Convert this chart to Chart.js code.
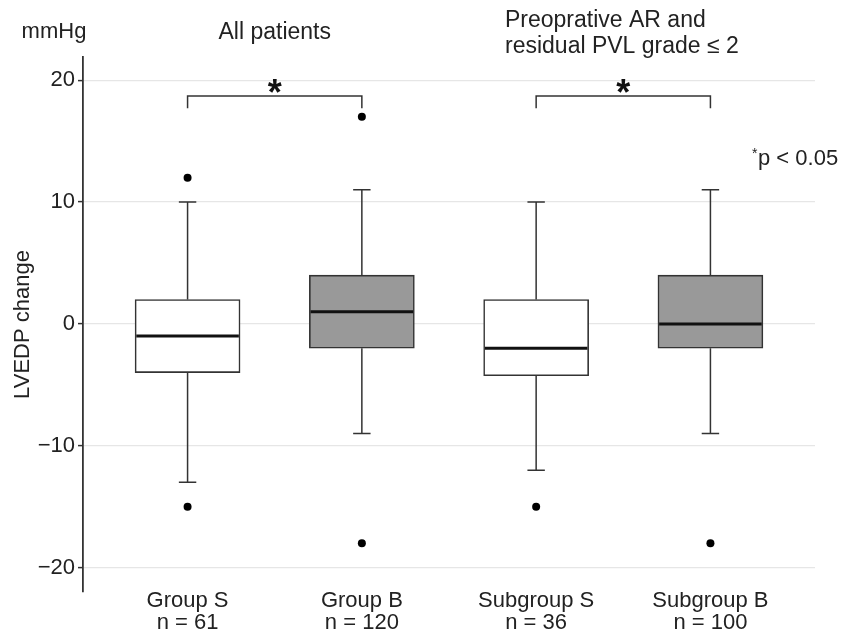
<!DOCTYPE html>
<html>
<head>
<meta charset="utf-8">
<script src="https://cdn.jsdelivr.net/npm/chart.js@4/dist/chart.umd.min.js"></script>
<style>
  html, body { margin: 0; padding: 0; background: #fff; }
  #wrap { width: 846px; height: 632px; position: relative; }
</style>
</head>
<body>
<div id="wrap"><canvas id="myChart"></canvas></div>
<script>
// Data (mmHg)
const categories = ['Group S', 'Group B', 'Subgroup S', 'Subgroup B'];
const sampleSizes = [61, 120, 36, 100];
const lowerWhisker = [-13, -9, -12, -9];
const q1 = [-4, -2, -4.25, -2];
const median = [-1, 1, -2, 0];
const q3 = [2, 4, 2, 4];
const upperWhisker = [10, 11, 10, 11];
const outliers = [[12, -15], [17, -18], [-15], [-18]];
const boxFills = ['#ffffff', '#999999', '#ffffff', '#999999'];
const yTicks = [-20, -10, 0, 10, 20];
const comparisons = [[0, 1], [2, 3]];

const FONT = '"Liberation Sans", Arial, Helvetica, sans-serif';
const INK = '#333333';

const boxData = categories.map((c, i) => ({ x: i + 1, y: [q1[i], q3[i]] }));
const outlierData = [];
outliers.forEach((list, i) => list.forEach(v => outlierData.push({ x: i + 1, y: v })));

// whiskers, medians, brackets and header text
const boxExtras = {
  id: 'boxExtras',
  beforeDatasetsDraw(chart) {
    const { ctx, scales: { x, y } } = chart;
    ctx.save();
    ctx.strokeStyle = INK;
    ctx.lineWidth = 1.5;
    categories.forEach((c, i) => {
      const cx = x.getPixelForValue(i + 1);
      const capL = x.getPixelForValue(i + 1 - 0.05);
      const capR = x.getPixelForValue(i + 1 + 0.05);
      ctx.beginPath();
      ctx.moveTo(cx, y.getPixelForValue(q3[i]));
      ctx.lineTo(cx, y.getPixelForValue(upperWhisker[i]));
      ctx.moveTo(cx, y.getPixelForValue(q1[i]));
      ctx.lineTo(cx, y.getPixelForValue(lowerWhisker[i]));
      ctx.moveTo(capL, y.getPixelForValue(upperWhisker[i]));
      ctx.lineTo(capR, y.getPixelForValue(upperWhisker[i]));
      ctx.moveTo(capL, y.getPixelForValue(lowerWhisker[i]));
      ctx.lineTo(capR, y.getPixelForValue(lowerWhisker[i]));
      ctx.stroke();
    });
    ctx.restore();
  },
  afterDatasetsDraw(chart) {
    const { ctx, scales: { x, y } } = chart;
    ctx.save();
    ctx.strokeStyle = '#111';
    ctx.lineWidth = 3;
    categories.forEach((c, i) => {
      const yy = y.getPixelForValue(median[i]);
      ctx.beginPath();
      ctx.moveTo(x.getPixelForValue(i + 1 - 0.3) + 1, yy);
      ctx.lineTo(x.getPixelForValue(i + 1 + 0.3) - 1, yy);
      ctx.stroke();
    });

    // significance brackets
    ctx.strokeStyle = INK;
    ctx.lineWidth = 1.5;
    comparisons.forEach(([a, b]) => {
      const xa = x.getPixelForValue(a + 1);
      const xb = x.getPixelForValue(b + 1);
      const top = y.getPixelForValue(18.7);
      const foot = y.getPixelForValue(17.7);
      ctx.beginPath();
      ctx.moveTo(xa, foot);
      ctx.lineTo(xa, top);
      ctx.lineTo(xb, top);
      ctx.lineTo(xb, foot);
      ctx.stroke();
      ctx.fillStyle = '#111';
      ctx.font = 'bold 36px ' + FONT;
      ctx.textAlign = 'center';
      ctx.textBaseline = 'alphabetic';
      ctx.fillText('*', (xa + xb) / 2, top + 9);
    });
    ctx.restore();
  },
  afterDraw(chart) {
    const { ctx, scales: { x } } = chart;
    ctx.save();
    ctx.fillStyle = '#222';
    ctx.textBaseline = 'alphabetic';
    ctx.font = '22px ' + FONT;
    ctx.textAlign = 'center';
    ctx.fillText('mmHg', 54, 38);
    ctx.font = '23px ' + FONT;
    ctx.fillText('All patients', x.getPixelForValue(1.5), 39);
    ctx.textAlign = 'left';
    ctx.fillText('Preoprative AR and', 505, 27);
    ctx.fillText('residual PVL grade \u2264 2', 505, 53);
    ctx.font = '14px ' + FONT;
    ctx.fillText('*', 752, 158);
    ctx.font = '22px ' + FONT;
    ctx.fillText('p < 0.05', 758, 165);
    ctx.restore();
  }
};

new Chart(document.getElementById('myChart'), {
  data: {
    datasets: [{
      type: 'bar',
      data: boxData,
      backgroundColor: boxFills,
      borderColor: INK,
      borderWidth: 1.6,
      borderSkipped: false,
      barThickness: 105
    }, {
      type: 'scatter',
      data: outlierData,
      pointRadius: 4,
      pointBackgroundColor: '#000',
      pointBorderWidth: 0
    }]
  },
  options: {
    responsive: true,
    maintainAspectRatio: false,
    animation: false,
    layout: { padding: { top: 57, left: 10, right: 31, bottom: 0 } },
    plugins: { legend: { display: false }, tooltip: { enabled: false } },
    scales: {
      x: {
        type: 'linear',
        offset: false,
        min: 0.4,
        max: 4.6,
        afterBuildTicks: (scale) => { scale.ticks = categories.map((c, i) => ({ value: i + 1 })); },
        afterFit: (scale) => { scale.height = 40; },
        grid: { display: false, drawTicks: false },
        border: { display: false },
        ticks: {
          autoSkip: false,
          maxRotation: 0,
          padding: -2,
          color: '#222',
          font: { family: FONT, size: 22, lineHeight: 1.0 },
          callback: (v) => [categories[v - 1], 'n = ' + sampleSizes[v - 1]]
        }
      },
      y: {
        min: -22,
        max: 21.9,
        afterBuildTicks: (scale) => { scale.ticks = yTicks.map(v => ({ value: v })); },
        afterFit: (scale) => { scale.width = 73; },
        grid: { color: '#e6e6e6', lineWidth: 1.2, tickColor: INK, tickLength: 5, tickWidth: 1.5 },
        border: { display: true, color: INK, width: 1.8 },
        ticks: {
          padding: 3,
          color: '#222',
          font: { family: FONT, size: 22 },
          callback: (v) => (v < 0 ? '\u2212' + Math.abs(v) : String(v))
        },
        title: {
          display: true,
          text: 'LVEDP change',
          color: '#222',
          padding: 0,
          font: { family: FONT, size: 22 }
        }
      }
    }
  },
  plugins: [boxExtras]
});
</script>
</body>
</html>
